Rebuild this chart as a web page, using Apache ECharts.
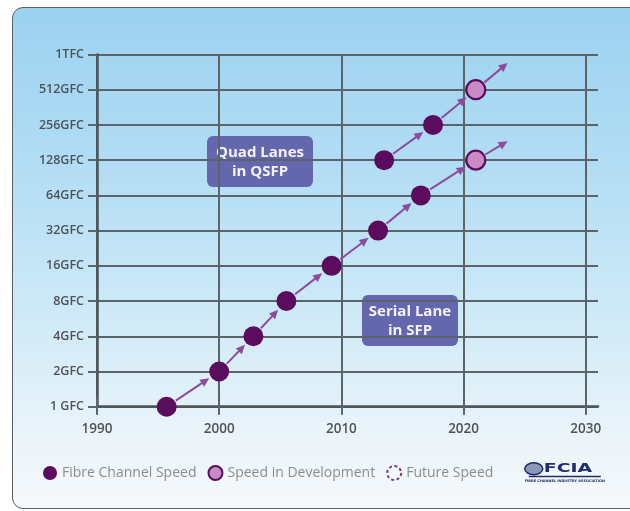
<!DOCTYPE html>
<html><head><meta charset="utf-8">
<script src="https://cdn.jsdelivr.net/npm/echarts@6/dist/echarts.min.js"></script>
<style>
html,body{margin:0;padding:0;background:#fff;overflow:hidden}
#panel{position:absolute;left:12px;top:7px;width:650px;height:500px;border:1.5px solid #5a5f63;border-radius:11px;
background:linear-gradient(to bottom,#9cd2f0 0%,#b1dcf4 30%,#cde9f7 60%,#edf5fa 88%,#f5f9fc 100%);}
#c{position:absolute;left:0;top:0;width:630px;height:511px}
</style>
</head><body><div id="panel"></div><div id="c"></div>
<script>
// ---- data ----
const speedLabels = ['1 GFC','2GFC','4GFC','8GFC','16GFC','32GFC','64GFC','128GFC','256GFC','512GFC','1TFC'];
const yearTicks = [1990, 2000, 2010, 2020, 2030];

const serialYears  = [1995.7, 2000.0, 2002.8, 2005.5, 2009.2, 2013.0, 2016.5];
const serialSpeeds = [1, 2, 4, 8, 16, 32, 64];
const serialDevYears  = [2021.0];
const serialDevSpeeds = [128];
const serialFutureYear  = 2023.6;
const serialFutureSpeed = 186;

const quadYears  = [2013.5, 2017.5];
const quadSpeeds = [128, 256];
const quadDevYears  = [2021.0];
const quadDevSpeeds = [512];
const quadFutureYear  = 2023.6;
const quadFutureSpeed = 867;

// ---- build ----
const L2 = v => Math.log2(v);
const pts = (ys, ss) => ys.map((y, i) => [y, L2(ss[i])]);
const fibreData = pts(serialYears, serialSpeeds).concat(pts(quadYears, quadSpeeds));
const devData = pts(serialDevYears, serialDevSpeeds).concat(pts(quadDevYears, quadDevSpeeds));

function laneArrows(ys, ss, dys, dss, fy, fs) {
  const seq = pts(ys, ss).concat(pts(dys, dss));
  const out = [];
  for (let i = 0; i < seq.length - 1; i++) out.push([seq[i][0], seq[i][1], seq[i+1][0], seq[i+1][1], 12]);
  const last = seq[seq.length - 1];
  out.push([last[0], last[1], fy, L2(fs), 0]);
  return out;
}
const arrowData = laneArrows(serialYears, serialSpeeds, serialDevYears, serialDevSpeeds, serialFutureYear, serialFutureSpeed)
  .concat(laneArrows(quadYears, quadSpeeds, quadDevYears, quadDevSpeeds, quadFutureYear, quadFutureSpeed));

const dark = '#5c0c5c';
const devFill = '#c98bc5';
const arrowColor = '#8b4c9b';
const gridColor = '#5a6469';
const labelColor = '#4e5358';
const font = 'Open Sans';

function renderArrow(params, api) {
  const p1 = api.coord([api.value(0), api.value(1)]);
  const p2 = api.coord([api.value(2), api.value(3)]);
  const gapEnd = api.value(4);
  const dx = p2[0] - p1[0], dy = p2[1] - p1[1];
  const len = Math.hypot(dx, dy);
  const ux = dx / len, uy = dy / len;
  const R = 11;
  const s = [p1[0] + ux * R, p1[1] + uy * R];
  const e = [p2[0] - ux * gapEnd, p2[1] - uy * gapEnd];
  const head = 9, hw = 4.2;
  const b = [e[0] - ux * head, e[1] - uy * head];
  return {
    type: 'group',
    children: [
      { type: 'line', shape: { x1: s[0], y1: s[1], x2: b[0] + ux, y2: b[1] + uy }, style: { stroke: arrowColor, lineWidth: 2 } },
      { type: 'polygon', shape: { points: [e, [b[0] - uy * hw, b[1] + ux * hw], [b[0] + uy * hw, b[1] - ux * hw]] }, style: { fill: arrowColor } }
    ]
  };
}

const chart = echarts.init(document.getElementById('c'), null, { renderer: 'canvas' });
const xCommon = { type: 'value', min: 1990, max: 2031, interval: 10 };
chart.setOption({
  backgroundColor: 'transparent',
  animation: false,
  grid: { left: 97, right: 32, top: 54.5, bottom: 104.3, containLabel: false },
  xAxis: [
    Object.assign({}, xCommon, {
      position: 'bottom',
      axisLine: { show: true, onZero: false, lineStyle: { color: '#4c5559', width: 2.5 } },
      axisTick: { show: true, length: 8, customValues: yearTicks, lineStyle: { color: gridColor, width: 2 } },
      axisLabel: { customValues: yearTicks, formatter: v => String(v), color: labelColor, fontFamily: font, fontWeight: 600, fontSize: 13.5, margin: 15 },
      splitLine: { show: true, lineStyle: { color: gridColor, width: 2 } }
    }),
    Object.assign({}, xCommon, {
      position: 'top',
      axisLine: { show: false },
      axisTick: { show: true, length: 10, customValues: yearTicks, lineStyle: { color: gridColor, width: 2 } },
      axisLabel: { show: false },
      splitLine: { show: false }
    })
  ],
  yAxis: {
    type: 'value', min: 0, max: speedLabels.length - 1, interval: 1,
    axisLine: { show: true, onZero: false, lineStyle: { color: '#4c5559', width: 2.5 } },
    axisTick: { show: true, length: 9, lineStyle: { color: gridColor, width: 2 } },
    axisLabel: { color: labelColor, fontFamily: font, fontWeight: 600, fontSize: 12.5, margin: 13,
      formatter: v => speedLabels[Math.round(v)] },
    splitLine: { show: true, lineStyle: { color: gridColor, width: 2 } }
  },
  legend: {
    left: 38, top: 460,
    itemWidth: 14, itemHeight: 14, itemGap: 11,
    textStyle: { color: '#8a8c8f', fontFamily: font, fontSize: 14 },
    data: [
      { name: 'Fibre Channel Speed', icon: 'circle' },
      { name: 'Speed in Development', icon: 'circle', itemStyle: { color: devFill, borderColor: dark, borderWidth: 2 } },
      { name: 'Future Speed', icon: 'circle', itemStyle: { color: 'rgba(0,0,0,0)', borderColor: dark, borderWidth: 2, borderType: [3, 2.5] } }
    ]
  },
  series: [
    { name: 'arrows', type: 'custom', renderItem: renderArrow, data: arrowData, z: 3, silent: true },
    { name: 'Fibre Channel Speed', type: 'scatter', data: fibreData, symbolSize: 20, z: 4,
      itemStyle: { color: dark, opacity: 1 } },
    { name: 'Speed in Development', type: 'scatter', data: devData, symbolSize: 19, z: 4,
      itemStyle: { color: devFill, borderColor: dark, borderWidth: 2.2, opacity: 1 } },
    { name: 'Future Speed', type: 'scatter', data: [], symbolSize: 19,
      itemStyle: { color: 'rgba(0,0,0,0)', borderColor: dark, borderWidth: 2, borderType: [3, 2.5] } }
  ],
  graphic: [
    { type: 'group', left: 207, top: 136, children: [
      { type: 'rect', shape: { x: 0, y: 0, width: 106, height: 51, r: 6 }, style: { fill: '#6466ae' } },
      { type: 'text', x: 53, y: 26, style: { text: 'Quad Lanes\nin QSFP', fill: '#f4f4fa', font: 'bold 15px "Open Sans"', align: 'center', verticalAlign: 'middle', lineHeight: 19 } }
    ]},
    { type: 'group', left: 524, top: 462, children: [
      { type: 'ellipse', shape: { cx: 11, cy: 9.5, rx: 9, ry: 6 }, style: { fill: '#8d97b8', stroke: '#1e2b6c', lineWidth: 1.5 } },
      { type: 'text', x: 21, y: 3, scaleX: 1.45, style: { text: 'FCIA', fill: '#1e2b6c', font: 'bold 13px "DejaVu Sans"' } },
      { type: 'rect', shape: { x: 6, y: 16.5, width: 72, height: 1.5 }, style: { fill: '#1e2b6c' } },
      { type: 'text', x: 42, y: 20, style: { text: 'FIBRE CHANNEL INDUSTRY ASSOCIATION', fill: '#1e2b6c', font: 'bold 3.5px "DejaVu Sans"', align: 'center' } }
    ]},
    { type: 'group', left: 362, top: 295, children: [
      { type: 'rect', shape: { x: 0, y: 0, width: 96, height: 51, r: 6 }, style: { fill: '#6466ae' } },
      { type: 'text', x: 48, y: 26, style: { text: 'Serial Lane\nin SFP', fill: '#f4f4fa', font: 'bold 15px "Open Sans"', align: 'center', verticalAlign: 'middle', lineHeight: 19 } }
    ]}
  ]
});
</script>
</body></html>
